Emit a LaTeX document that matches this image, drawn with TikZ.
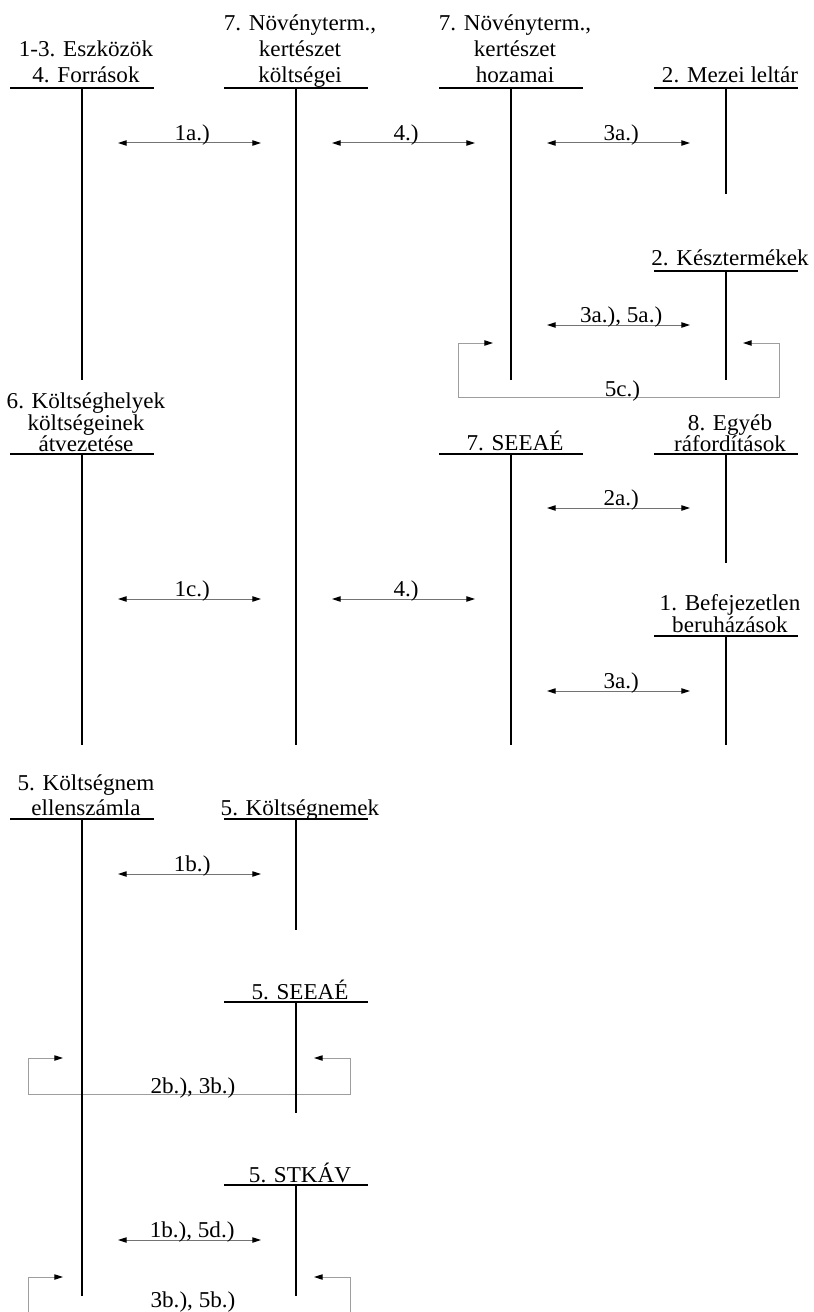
\documentclass[tikz,border=0pt]{standalone}
\usepackage{fontspec}
\setmainfont{Liberation Serif}[FakeStretch=1.02]
\usetikzlibrary{arrows.meta,calc}
\tikzset{
  tbar/.style={line width=1.6pt, line cap=butt},
  dblarr/.style={draw=black!55, line width=0.75pt,
     {Triangle[length=6.5pt,width=4pt,color=black]}-{Triangle[length=6.5pt,width=4pt,color=black]}},
  looparr/.style={draw=black!38, line width=0.75pt,
     {Triangle[length=6.5pt,width=4pt,color=black]}-{Triangle[length=6.5pt,width=4pt,color=black]}},
  ttl/.style={anchor=base, inner sep=0pt, font=\fontsize{17}{19}\selectfont},
  lbl/.style={anchor=base, inner sep=0pt, font=\fontsize{17}{19}\selectfont},
}
% T-account: name, x centre, bar y, bottom y
\newcommand\tacct[4]{%
  \coordinate (#1L) at (#2-72,#3);
  \coordinate (#1R) at (#2+72,#3);
  \coordinate (#1T) at (#2,#3);
  \coordinate (#1B) at (#2,#4);
  \draw[tbar] (#1L) -- (#1R);
  \draw[tbar] (#1T) -- (#1B);}
% title line: name, x, baseline y, text
\newcommand\ttline[4]{\node[ttl] (#1) at (#2+4,#3) {#4};}
% double arrow: name, y, x1, x2, label
\newcommand\dblar[5]{%
  \coordinate (#1a) at (#3,#2);
  \coordinate (#1b) at (#4,#2);
  \draw[dblarr] (#1a) -- (#1b) node[lbl, midway, xshift=2pt, yshift=1.6pt] (#1l) {#5};}
% loop arrow: name, ytop, ybottom, xL, xLtip, xR, xRtip, label, label baseline offset
\newcommand\loopar[9]{%
  \coordinate (#1a) at (#5,#2);
  \coordinate (#1c1) at (#4,#2);
  \coordinate (#1c2) at (#4,#3);
  \coordinate (#1c3) at (#6,#3);
  \coordinate (#1c4) at (#6,#2);
  \coordinate (#1b) at (#7,#2);
  \draw[looparr] (#1a) -- (#1c1) -- (#1c2) -- (#1c3) -- (#1c4) -- (#1b);
  \node[lbl] (#1l) at ($(#1c2)!0.5!(#1c3)+(4,-#9)$) {#8};}
\begin{document}
\begin{tikzpicture}[x=0.75pt, y=-0.75pt]
\useasboundingbox (0,0) rectangle (813,1312);
% loops first (behind the accounts)
\loopar{lc}{343}{397}{458}{493}{779}{743}{5c.)}{1}
\loopar{lb}{1058}{1094}{28}{63}{350}{314}{2b.), 3b.)}{1}
\loopar{ld}{1277}{1316}{28}{63}{350}{314}{3b.), 5b.)}{9}
% row 1
\tacct{A1}{82}{88}{380}
\tacct{A2}{296}{88}{745}
\tacct{A3}{511}{88}{380}
\tacct{A4}{726}{88}{194}
\tacct{A5}{726}{271}{380}
\ttline{A1a}{82}{57}{1-3. Eszközök}
\ttline{A1b}{82}{83}{4. Források}
\ttline{A2a}{296}{31}{7. Növényterm.,}
\ttline{A2b}{296}{57}{kertészet}
\ttline{A2c}{296}{83}{költségei}
\ttline{A3a}{511}{31}{7. Növényterm.,}
\ttline{A3b}{511}{57}{kertészet}
\ttline{A3c}{511}{83}{hozamai}
\ttline{A4a}{726}{83}{2. Mezei leltár}
\ttline{A5a}{726}{266}{2. Késztermékek}
% row 2
\tacct{B1}{82}{454}{745}
\tacct{B3}{511}{454}{745}
\tacct{B4}{726}{454}{563}
\tacct{B5}{726}{636}{745}
\ttline{B1a}{82}{408}{6. Költséghelyek}
\ttline{B1b}{82}{430}{költségeinek}
\ttline{B1c}{82}{451}{átvezetése}
\ttline{B3a}{511}{450}{7. SEEAÉ}
\ttline{B4a}{726}{430}{8. Egyéb}
\ttline{B4b}{726}{451}{ráfordítások}
\ttline{B5a}{726}{610}{1. Befejezetlen}
\ttline{B5b}{726}{632}{beruházások}
% row 3
\tacct{C1}{82}{819}{1296}
\tacct{C2}{296}{819}{930}
\tacct{C3}{296}{1002}{1113}
\tacct{C4}{296}{1185}{1296}
\ttline{C1a}{82}{790}{5. Költségnem}
\ttline{C1b}{82}{815}{ellenszámla}
\ttline{C2a}{296}{815}{5. Költségnemek}
\ttline{C3a}{296}{999}{5. SEEAÉ}
\ttline{C4a}{296}{1182}{5. STKÁV}
% arrows
\dblar{r1}{143}{118}{261}{1a.)}
\dblar{r2}{143}{332}{475}{4.)}
\dblar{r3}{143}{547}{690}{3a.)}
\dblar{r4}{325}{547}{690}{3a.), 5a.)}
\dblar{r5}{508}{547}{690}{2a.)}
\dblar{r6}{599}{118}{261}{1c.)}
\dblar{r7}{599}{332}{475}{4.)}
\dblar{r8}{691}{547}{690}{3a.)}
\dblar{r9}{874}{118}{261}{1b.)}
\dblar{r10}{1240}{118}{261}{1b.), 5d.)}
\end{tikzpicture}
\end{document}
